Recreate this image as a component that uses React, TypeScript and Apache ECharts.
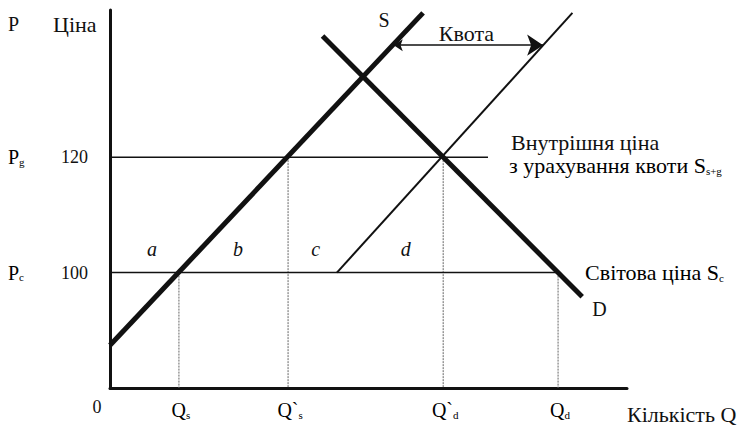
import React, { useEffect, useRef } from "react";
import * as echarts from "echarts";

// ---- data ----
const priceTicks = [100, 120];
const priceSymbols = [["P", "c"], ["P", "g"]];
const qPositions = [12, 31, 58, 78];
const qTopPrices = [100, 120, 120, 100];
const qLabels = [["Q", "s"], ["Q`", "s"], ["Q`", "d"], ["Q", "d"]];
const supplyS = [[0, 87.4], [54.5, 145]];
const demandD = [[37, 141], [82.2, 95.8]];
const quotaSupply = [[39.5, 100], [80.5, 145]];
const domesticPrice = [[0, 120], [65.8, 120]];
const worldPrice = [[0, 100], [78, 100]];
const quotaArrow = [[49.4, 139.4], [75.4, 139.4]];
const areaLabels = ["a", "b", "c", "d"];
const areaX = [7.3, 22.3, 35.8, 51.5];
const areaY = 104;

const FONT = "Liberation Serif";
const FS_CYR = 22;
const FS_LAT = 20;
const FS_NUM = 18;
const FS_SUB = 11;

export default function App() {
  const ref = useRef<HTMLDivElement>(null);
  useEffect(() => {
    document.body.style.margin = "0";
    document.body.style.background = "#fff";
    const chart = echarts.init(ref.current!, null, { renderer: "svg" });
    const thin = (data: number[][], width: number, type: any = "solid", color = "#111") => ({
      type: "line",
      data,
      symbol: "none",
      silent: true,
      lineStyle: { color, width, type, cap: "butt" },
      z: 2,
    });
    const verticals = qPositions.map((q, i) =>
      thin([[q, qTopPrices[i]], [q, 80]], 1, [2, 1], "#666")
    );
    chart.setOption({
      animation: false,
      backgroundColor: "#fff",
      grid: { left: 110, top: 10, width: 517, height: 378 },
      xAxis: {
        type: "value",
        min: 0,
        max: 90,
        axisLine: { show: true, onZero: false, lineStyle: { color: "#111", width: 3 } },
        axisTick: { show: false },
        axisLabel: { show: false },
        splitLine: { show: false },
      },
      yAxis: {
        type: "value",
        min: 80,
        max: 145.5,
        interval: 20,
        axisLine: { show: true, onZero: false, lineStyle: { color: "#111", width: 3 } },
        axisTick: { show: false },
        splitLine: { show: false },
        axisLabel: {
          margin: 22,
          color: "#111",
          fontFamily: FONT,
          fontSize: FS_NUM,
          formatter: (v: number) => (priceTicks.includes(v) ? String(v) : ""),
        },
      },
      series: [
        ...verticals,
        thin(domesticPrice, 1.5),
        thin(worldPrice, 1.5),
        thin(quotaSupply, 2),
        thin(supplyS, 5),
        thin(demandD, 5),
        {
          type: "lines",
          coordinateSystem: "cartesian2d",
          symbol: ["arrow", "arrow"],
          symbolSize: [9, 16],
          lineStyle: { color: "#111", width: 1.5, opacity: 1 },
          itemStyle: { color: "#111" },
          data: [{ coords: quotaArrow }],
          silent: true,
          z: 3,
        },
      ],
    });

    const px = (p: number[]) => chart.convertToPixel({ gridIndex: 0 }, p) as number[];
    const rich = (fs: number) => ({
      m: { fontFamily: FONT, fontSize: fs, color: "#111" },
      s: { fontFamily: FONT, fontSize: FS_SUB, color: "#111", verticalAlign: "bottom", padding: [7, 0, 0, 0] },
    });
    const graphics: any[] = [];
    const text = (x: number, y: number, t: string, fs: number, align = "left", extra: any = {}) =>
      graphics.push({
        type: "text",
        x,
        y,
        style: { fontFamily: FONT, fontSize: fs, fill: "#111", text: t, align, verticalAlign: "middle", ...extra },
        silent: true,
      });
    const subText = (x: number, y: number, main: string, sub: string, fs: number, align = "left") =>
      graphics.push({
        type: "text",
        x,
        y,
        style: {
          text: `{m|${main}}{s|${sub}}`,
          rich: rich(fs),
          align,
          verticalAlign: "middle",
        },
        silent: true,
      });

    // y axis symbols
    text(8, 24, "P", FS_LAT);
    text(53, 24, "Ціна", FS_CYR);
    priceTicks.forEach((p, i) => {
      const y = px([0, p])[1];
      subText(8, y, priceSymbols[i][0], priceSymbols[i][1], FS_LAT);
    });
    // x axis labels
    const origin = px([0, 80]);
    text(origin[0] - 13, origin[1] + 19, "0", FS_NUM, "center");
    qPositions.forEach((q, i) => {
      const x = px([q, 80])[0];
      subText(x + 2, origin[1] + 22, qLabels[i][0], qLabels[i][1], FS_LAT, "center");
    });
    text(627, origin[1] + 26, "Кількість Q", FS_CYR);
    // curve labels
    const sTop = px(supplyS[1]);
    text(sTop[0] - 39, 20, "S", FS_LAT, "center");
    const dEnd = px(demandD[1]);
    text(dEnd[0] + 10, dEnd[1] + 12, "D", FS_LAT);
    const arrowL = px(quotaArrow[0]);
    const arrowR = px(quotaArrow[1]);
    text((arrowL[0] + arrowR[0]) / 2 - 2, arrowL[1] - 12, "Квота", FS_CYR, "center");
    const dom = px(domesticPrice[1]);
    text(dom[0] + 23, dom[1] - 15, "Внутрішня ціна", FS_CYR);
    graphics.push({
      type: "text",
      x: dom[0] + 21,
      y: dom[1] + 8,
      style: {
        text: "{m|з урахування квоти S}{s|s+g}",
        rich: rich(FS_CYR),
        verticalAlign: "middle",
      },
      silent: true,
    });
    const wp = px(worldPrice[1]);
    graphics.push({
      type: "text",
      x: wp[0] + 27,
      y: wp[1],
      style: {
        text: "{m|Світова ціна S}{s|c}",
        rich: rich(FS_CYR),
        verticalAlign: "middle",
      },
      silent: true,
    });
    areaLabels.forEach((l, i) => {
      const p = px([areaX[i], areaY]);
      text(p[0], p[1], l, FS_LAT, "center", { fontStyle: "italic" });
    });

    chart.setOption({ graphic: graphics });
    return () => chart.dispose();
  }, []);
  return <div ref={ref} style={{ width: 739, height: 429 }} />;
}
